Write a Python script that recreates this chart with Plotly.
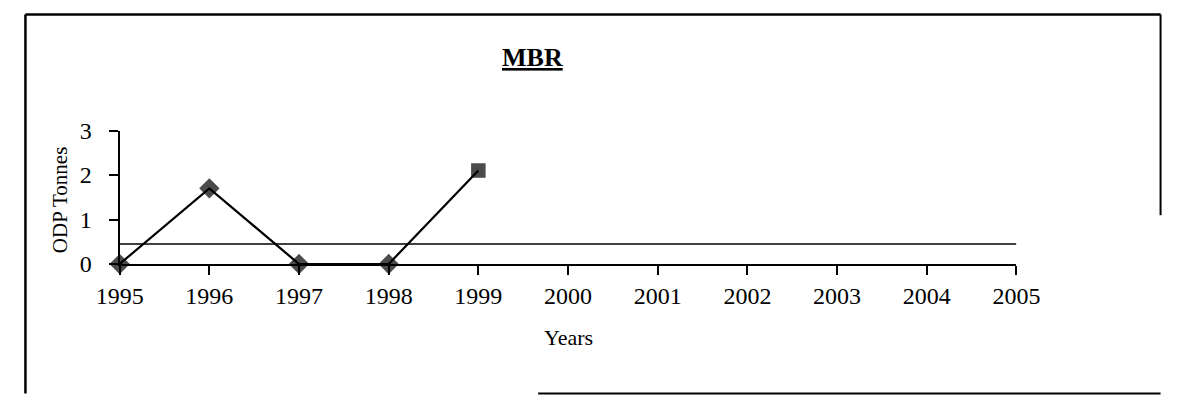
import plotly.graph_objects as go

# ---- data ----
years = [1995, 1996, 1997, 1998, 1999]
odp_tonnes = [0, 1.7, 0, 0, 2.1]
marker_symbols = ["diamond", "diamond", "diamond", "diamond", "square"]
baseline_years = [1995, 2005]
baseline_value = 0.45
tick_years = list(range(1995, 2006))
y_ticks = [0, 1, 2, 3]
title_text = "MBR"
x_title = "Years"
y_title = "ODP Tonnes"

W, H = 1186, 408
FONT = "Liberation Serif"

# the photographed page is shown inside a padded frame; map target-picture
# pixel positions to page pixels
SX, OX = 0.963, 22.0
SY, OY = 0.94, 12.0


def px(x):
    p = (x - OX) / SX
    return min(max(p, 1.5), W - 1.5) / W


def py(y):
    p = (y - OY) / SY
    return 1 - min(max(p, 1.5), H - 1.5) / H


fig = go.Figure()

fig.add_trace(go.Scatter(
    x=baseline_years, y=[baseline_value] * len(baseline_years),
    mode="lines", line=dict(color="black", width=1.6),
    showlegend=False, hoverinfo="skip",
))

fig.add_trace(go.Scatter(
    x=years, y=odp_tonnes, mode="lines+markers",
    line=dict(color="black", width=2.2),
    marker=dict(symbol=marker_symbols, size=[14, 14, 14, 14, 13], color="black",
                line=dict(color="black", width=1.5)),
    cliponaxis=False, showlegend=False,
))

fig.update_layout(
    width=W, height=H,
    margin=dict(l=0, r=0, t=0, b=0),
    paper_bgcolor="white", plot_bgcolor="white",
    font=dict(family=FONT, color="black"),
    xaxis=dict(
        domain=[px(118), px(1018)],
        range=[1995, 2005],
        tickmode="array", tickvals=tick_years,
        ticktext=[str(t) for t in tick_years],
        ticks="outside", ticklen=9, tickwidth=2, tickcolor="black",
        showline=True, linecolor="black", linewidth=2,
        showgrid=False, zeroline=False,
        tickfont=dict(family=FONT, size=24, color="black"),
        ticklabelstandoff=0,
        anchor="y",
    ),
    yaxis=dict(
        domain=[py(264), py(130)],
        range=[0, 3],
        tickmode="array", tickvals=y_ticks,
        ticks="outside", ticklen=9, tickwidth=2, tickcolor="black",
        showline=True, linecolor="black", linewidth=2,
        showgrid=False, zeroline=False,
        tickfont=dict(family=FONT, size=24, color="black"),
        ticklabelstandoff=12,
        anchor="x",
    ),
    annotations=[
        dict(text="<b><u>" + title_text + "</u></b>", x=px(532), y=py(57),
             xref="paper", yref="paper", showarrow=False,
             font=dict(family=FONT, size=26, color="black"),
             xanchor="center", yanchor="middle"),
        dict(text=x_title, x=px(568), y=py(338), xref="paper", yref="paper",
             showarrow=False, font=dict(family=FONT, size=22, color="black"),
             xanchor="center", yanchor="middle"),
        dict(text=y_title, x=px(58), y=py(200), xref="paper", yref="paper",
             showarrow=False, textangle=-90,
             font=dict(family=FONT, size=21, color="black"),
             xanchor="center", yanchor="middle"),
    ],
    shapes=[
        dict(type="line", xref="paper", yref="paper", x0=px(7), x1=px(1184),
             y0=py(13), y1=py(13), line=dict(color="black", width=2.5)),
        dict(type="line", xref="paper", yref="paper", x0=px(7), x1=px(7),
             y0=py(13), y1=py(408), line=dict(color="black", width=2.5)),
        dict(type="line", xref="paper", yref="paper", x0=px(1184), x1=px(1184),
             y0=py(13), y1=py(215), line=dict(color="black", width=2)),
        dict(type="line", xref="paper", yref="paper", x0=px(538), x1=px(1186),
             y0=py(401), y1=py(401), line=dict(color="black", width=2)),
    ],
)

fig.write_html("out.html", config={"displayModeBar": False},
               post_script="document.body.style.margin='0';document.body.style.overflow='hidden';")
